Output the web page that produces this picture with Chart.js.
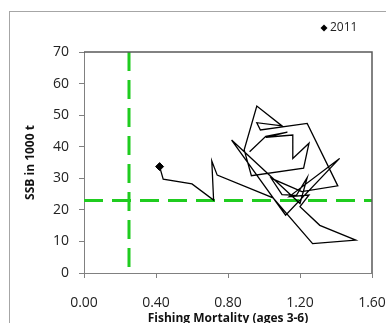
<!DOCTYPE html>
<html>
<head>
<meta charset="utf-8">
<script src="https://cdn.jsdelivr.net/npm/chart.js@4"></script>
<style>
  html, body { margin: 0; padding: 0; background: #fff; }
  #wrap { position: relative; width: 386px; height: 323px; }
</style>
</head>
<body>
<div id="wrap"><canvas id="chart" width="386" height="323"></canvas></div>
<script>
// F vs SSB trajectory, last point is 2011
const years = [1974,1975,1976,1977,1978,1979,1980,1981,1982,1983,1984,1985,1986,1987,1988,1989,1990,1991,1992,
  1993,1994,1995,1996,1997,1998,1999,2000,2001,2002,2003,2004,2005,2006,2007,2008,2009,2010,2011]
const fishingMortality = [0.92,1.01,1.13,1.01,1.16,1.16,1.25,1.22,0.93,0.89,0.96,1.10,0.96,0.98,1.24,1.41,1.21,1.04,1.10,
  1.18,1.24,1.20,0.82,1.12,1.42,1.14,1.25,1.20,1.31,1.51,1.27,1.05,0.74,0.71,0.72,0.60,0.44,0.42]
const ssb = [38.4,43.3,44.6,43.0,43.7,36.3,41.1,33.2,30.8,39.0,52.9,46.6,47.6,45.3,47.4,27.6,25.8,30.0,24.8,
  24.6,30.2,22.0,42.1,18.3,36.3,24.2,24.7,21.0,15.1,10.4,9.3,23.8,31.0,35.5,23.1,28.2,29.7,33.7]

const fRef = 0.25
const ssbRef = 23
const xTicks = [0, 0.4, 0.8, 1.2, 1.6]
const yTicks = [0, 10, 20, 30, 40, 50, 60, 70]

const points = fishingMortality.map((f, i) => ({x: f, y: ssb[i]}))
const last = points.length - 1

const green = "#1fcc1f"
const axisGray = "#808080"
const font = "'Open Sans', 'DejaVu Sans', sans-serif"

const framePlugin = {
  id: "frame",
  beforeDraw(chart){
    const ctx = chart.ctx
    ctx.save()
    ctx.fillStyle = "#fff"
    ctx.fillRect(0, 0, chart.width, chart.height)
    ctx.strokeStyle = "#a6a6a6"
    ctx.lineWidth = 1
    ctx.strokeRect(9.5, 11.5, 400, 400)
    ctx.restore()
  },
  afterDraw(chart){
    const ctx = chart.ctx
    const a = chart.chartArea
    ctx.save()
    ctx.setLineDash([])
    // top and right edges of the plot box
    ctx.strokeStyle = "#5a5a5a"
    ctx.lineWidth = 1.5
    ctx.beginPath()
    ctx.moveTo(a.left, a.top)
    ctx.lineTo(a.right, a.top)
    ctx.lineTo(a.right, a.bottom)
    ctx.stroke()
    // legend for the 2011 marker
    const ds = chart.data.datasets[1]
    const lx = 324, ly = 28
    ctx.fillStyle = "#000"
    ctx.beginPath()
    ctx.moveTo(lx, ly - 3.5)
    ctx.lineTo(lx + 3.5, ly)
    ctx.lineTo(lx, ly + 3.5)
    ctx.lineTo(lx - 3.5, ly)
    ctx.closePath()
    ctx.fill()
    ctx.font = "12px " + font
    ctx.textBaseline = "middle"
    ctx.fillStyle = "#222"
    ctx.fillText(ds.label, lx + 6, ly)
    ctx.restore()
  }
}

new Chart(document.getElementById("chart").getContext("2d"), {
  type: "scatter",
  data: {
    datasets: [
      {
        label: "F-SSB",
        data: points,
        showLine: true,
        borderColor: "#000",
        borderWidth: 1.3,
        pointRadius: 0,
        tension: 0,
        order: 1
      },
      {
        label: String(years[last]),
        data: [points[last]],
        pointStyle: "rectRot",
        pointRadius: 4,
        backgroundColor: "#000",
        borderColor: "#000",
        order: 0
      },
      {
        label: "Fref",
        data: [{x: fRef, y: 70}, {x: fRef, y: 0}],
        showLine: true,
        borderColor: green,
        borderWidth: 3,
        borderDash: [19, 9],
        pointRadius: 0,
        order: 2
      },
      {
        label: "Bref",
        data: [{x: 0, y: ssbRef}, {x: 1.6, y: ssbRef}],
        showLine: true,
        borderColor: green,
        borderWidth: 3,
        borderDash: [19, 9],
        pointRadius: 0,
        order: 2
      }
    ]
  },
  options: {
    responsive: false,
    animation: false,
    layout: { padding: { top: 52, right: 14, left: 0, bottom: 0 } },
    plugins: { legend: { display: false }, tooltip: { enabled: false } },
    scales: {
      x: {
        type: "linear",
        min: 0, max: 1.6,
        afterBuildTicks: (s) => { s.ticks = xTicks.map(v => ({value: v})) },
        afterFit: (s) => { s.height = 50; s.paddingLeft = 0; s.paddingRight = 0 },
        ticks: {
          color: "#222",
          font: { family: font, size: 14 },
          padding: 17,
          maxRotation: 0,
          callback: (v) => v.toFixed(2)
        },
        grid: { drawOnChartArea: false, tickLength: 5, color: axisGray },
        border: { color: axisGray },
        title: {
          display: true,
          text: "Fishing Mortality (ages 3-6)",
          color: "#111",
          font: { family: font, size: 12, weight: "bold" },
          padding: { top: 0, bottom: -3 }
        }
      },
      y: {
        type: "linear",
        min: 0, max: 70,
        afterBuildTicks: (s) => { s.ticks = yTicks.map(v => ({value: v})) },
        afterFit: (s) => { s.width = 84; s.paddingTop = 0; s.paddingBottom = 0 },
        ticks: {
          color: "#222",
          font: { family: font, size: 14 },
          padding: 10
        },
        grid: { drawOnChartArea: false, tickLength: 5, color: axisGray },
        border: { color: axisGray },
        title: {
          display: true,
          text: "SSB in 1000 t",
          color: "#111",
          font: { family: font, size: 12, weight: "bold" },
          padding: { top: 23, bottom: 0 }
        }
      }
    }
  },
  plugins: [framePlugin]
})
</script>
</body>
</html>
